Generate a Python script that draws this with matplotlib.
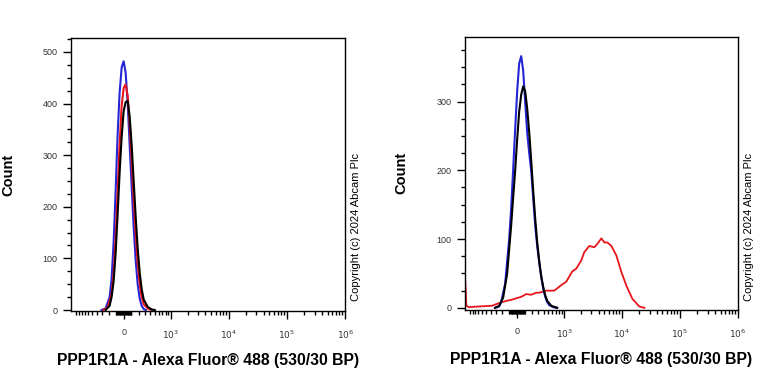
import numpy as np
import matplotlib
matplotlib.use("Agg")
import matplotlib.pyplot as plt

plt.rcParams['font.family'] = ['Liberation Sans', 'DejaVu Sans']

# biexponential-like display (asinh), width parameter
W = 317.0

# left panel: fluorescence values and counts
left_blue_x = [-314, -246, -185, -157, -129, -102, -76, -51, -25, 0, 25, 51, 76, 102, 129, 157, 185, 215, 246, 279, 314]
left_blue_y = [0, 3, 25, 60, 130, 230, 340, 420, 470, 482, 460, 400, 320, 240, 160, 95, 50, 22, 8, 2, 0]

left_red_x = [-279, -215, -157, -129, -102, -76, -51, -25, 0, 25, 51, 76, 102, 129, 157, 185, 215, 246, 279, 350, 430]
left_red_y = [0, 5, 30, 70, 140, 230, 320, 395, 430, 437, 415, 360, 290, 215, 145, 90, 50, 25, 11, 3, 0]

left_black_x = [-246, -185, -157, -129, -102, -76, -51, -25, 0, 25, 51, 76, 102, 129, 157, 185, 215, 246, 279, 350, 430, 496]
left_black_y = [0, 8, 25, 55, 110, 185, 265, 335, 385, 403, 405, 375, 320, 250, 180, 120, 72, 40, 20, 6, 1, 0]

# right panel
right_blue_x = [-314, -246, -215, -157, -102, -76, -51, -25, 0, 25, 51, 76, 102, 129, 157, 185, 215, 246, 279, 314, 350, 389, 430, 475, 520, 624, 739]
right_blue_y = [0, 2, 8, 35, 100, 145, 200, 260, 315, 355, 366, 345, 300, 255, 225, 200, 160, 120, 90, 65, 45, 28, 16, 8, 4, 1, 0]

right_black_x = [-314, -246, -185, -129, -76, -51, -25, 0, 25, 51, 76, 102, 129, 157, 185, 215, 246, 279, 314, 350, 389, 430, 475, 570, 739]
right_black_y = [0, 3, 15, 50, 120, 160, 200, 245, 285, 310, 322, 315, 290, 255, 215, 170, 130, 95, 68, 46, 30, 18, 10, 3, 0]

right_red_x = [-1218, -1165, -1043, -682, -369, -246, -143, -63, 51, 116, 185, 262, 314, 451, 652, 882, 1086, 1390, 1633,
               1999, 2255, 2755, 3363, 3790, 4445, 5010, 5640, 6617, 8068, 9840, 12000, 15230, 20000, 24500]
right_red_y = [38, 3, 1, 2, 3, 7, 10, 12, 16, 20, 19, 22, 22, 25, 25, 33, 38, 53, 57,
               69, 81, 90, 88, 93, 101, 95, 95, 90, 76, 52, 32, 13, 2, 0]

xlabel = "PPP1R1A - Alexa Fluor\u00ae 488 (530/30 BP)"
copyright_txt = "Copyright (c) 2024 Abcam Plc"

major_x = [0, 1e3, 1e4, 1e5, 1e6]
major_lbl = ["0", "$10^3$", "$10^4$", "$10^5$", "$10^6$"]
minor_x = []
for k in range(1, 10):
    minor_x += [-k * 10, -k * 100, k * 10, k * 100, k * 1e3, k * 1e4, k * 1e5]
minor_x.append(-1000)


def fwd(x):
    return np.arcsinh(np.asarray(x) / W)


def inv(y):
    return W * np.sinh(np.asarray(y))


fig = plt.figure(figsize=(7.68, 3.84), dpi=100)
ax1 = fig.add_axes([0.0924, 0.190, 0.357, 0.711])
ax2 = fig.add_axes([0.605, 0.193, 0.356, 0.711])


def style(ax, ymax, ymin):
    ax.set_xscale('function', functions=(fwd, inv))
    ax.set_xlim(-1250, 1e6)
    ax.set_ylim(ymin, ymax)
    ax.set_xticks(major_x)
    ax.set_xticklabels(major_lbl)
    ax.set_xticks(minor_x, minor=True)
    ax.set_yticks(np.arange(0, ymax, 100))
    ax.set_yticks(np.arange(0, ymax, 25), minor=True)
    ax.tick_params(axis='both', which='major', direction='out', length=5.5, width=1,
                   labelsize=6.5, labelcolor='#333333', pad=4)
    ax.tick_params(axis='both', which='minor', direction='out', length=3, width=1)
    ax.tick_params(axis='x', which='major', pad=7)
    for s in ax.spines.values():
        s.set_linewidth(1)
    ax.set_xlabel(xlabel, fontsize=11.3, fontweight='bold', labelpad=9)
    ax.set_ylabel("Count", fontsize=10.5, fontweight='bold', labelpad=20)


ax1.plot(left_blue_x, left_blue_y, color='#2525d8', lw=1.5)
ax1.plot(left_red_x, left_red_y, color='#e8141c', lw=1.5)
ax1.plot(left_black_x, left_black_y, color='black', lw=1.5)
style(ax1, 527, -2)

ax2.plot(right_red_x, right_red_y, color='#e8141c', lw=1.3)
ax2.plot(right_blue_x, right_blue_y, color='#2525d8', lw=1.5)
ax2.plot(right_black_x, right_black_y, color='black', lw=1.5)
style(ax2, 394, -3)

fig.text(0.464, 0.41, copyright_txt, rotation=90, fontsize=8, ha='center', va='center')
fig.text(0.975, 0.41, copyright_txt, rotation=90, fontsize=8, ha='center', va='center')

fig.savefig("out.png", dpi=100)
